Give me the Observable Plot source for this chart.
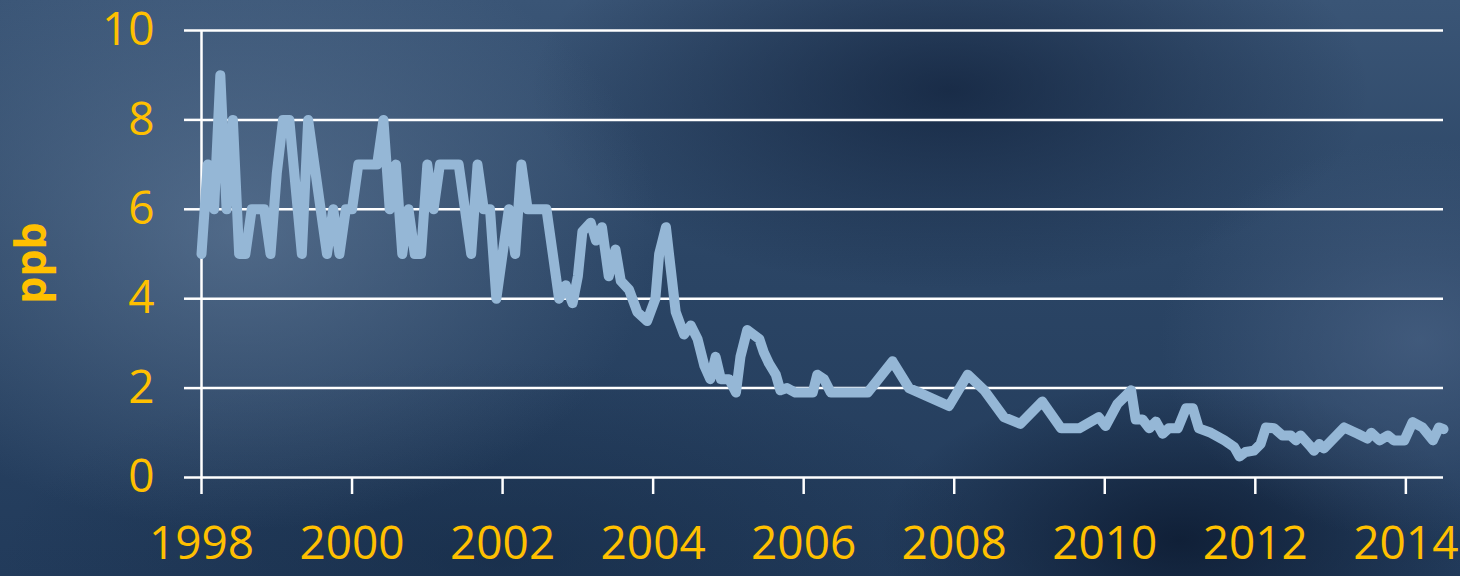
<!DOCTYPE html>
<html>
<head>
<meta charset="utf-8">
<script src="https://cdn.jsdelivr.net/npm/d3@7"></script>
<script src="https://cdn.jsdelivr.net/npm/@observablehq/plot@0.6"></script>
<style>
  html, body { margin: 0; padding: 0; }
  body {
    width: 1460px; height: 576px; overflow: hidden;
    background:
      radial-gradient(ellipse 420px 300px at 240px 230px, rgba(110,135,165,0.55), rgba(110,135,165,0) 100%),
      radial-gradient(ellipse 260px 200px at 1420px 340px, rgba(80,105,140,0.6), rgba(80,105,140,0) 100%),
      radial-gradient(ellipse 420px 200px at 950px 90px, rgba(10,25,50,0.65), rgba(10,25,50,0) 100%),
      radial-gradient(ellipse 300px 160px at 1180px 540px, rgba(8,20,40,0.7), rgba(8,20,40,0) 100%),
      radial-gradient(ellipse 500px 200px at 500px 560px, rgba(15,35,60,0.45), rgba(15,35,60,0) 100%),
      linear-gradient(180deg, #3a5576 0%, #2b4565 45%, #223b5b 100%);
  }
  #chart { position: absolute; left: 0; top: 0; }
</style>
</head>
<body>
<div id="chart"></div>
<script>
// Decimal years and ppb values
const years = [
  1998.000, 1998.083, 1998.167, 1998.250, 1998.333, 1998.417, 1998.500, 1998.583, 1998.667, 1998.750, 1998.833, 1998.917,
  1999.000, 1999.083, 1999.167, 1999.250, 1999.333, 1999.417, 1999.500, 1999.583, 1999.667, 1999.750, 1999.833, 1999.917,
  2000.000, 2000.083, 2000.167, 2000.250, 2000.333, 2000.417, 2000.500, 2000.583, 2000.667, 2000.750, 2000.833, 2000.917,
  2001.000, 2001.083, 2001.167, 2001.250, 2001.333, 2001.417, 2001.500, 2001.583, 2001.667, 2001.750, 2001.833, 2001.917,
  2002.000, 2002.083, 2002.167, 2002.250, 2002.333, 2002.417, 2002.500, 2002.583, 2002.667, 2002.750,
  2002.84, 2002.93, 2003.00, 2003.06, 2003.17, 2003.24, 2003.32, 2003.41, 2003.50, 2003.57, 2003.68, 2003.79, 2003.92,
  2004.03, 2004.08, 2004.17, 2004.30, 2004.41, 2004.50, 2004.59, 2004.68, 2004.76, 2004.83, 2004.90,
  2005.01, 2005.10, 2005.16, 2005.25, 2005.41, 2005.47, 2005.54, 2005.63, 2005.69, 2005.78, 2005.89,
  2006.12, 2006.18, 2006.27, 2006.36, 2006.85, 2007.18, 2007.40, 2007.93,
  2008.18, 2008.40, 2008.66, 2008.88, 2009.17, 2009.42, 2009.66, 2009.92,
  2010.01, 2010.17, 2010.35, 2010.41, 2010.50, 2010.59, 2010.68, 2010.77, 2010.85, 2010.97,
  2011.08, 2011.17, 2011.25, 2011.41, 2011.59, 2011.72, 2011.79, 2011.87, 2011.98,
  2012.07, 2012.14, 2012.25, 2012.36, 2012.47, 2012.54, 2012.60, 2012.72, 2012.78, 2012.85, 2012.91,
  2013.18, 2013.36, 2013.49, 2013.54, 2013.65, 2013.76, 2013.84, 2013.98,
  2014.09, 2014.22, 2014.36, 2014.44, 2014.50
];
const ppb = [
  5, 7, 6, 9, 6, 8, 5, 5, 6, 6, 6, 5,
  6.8, 8, 8, 6.5, 5, 8, 7, 6, 5, 6, 5, 6,
  6, 7, 7, 7, 7, 8, 6, 7, 5, 6, 5, 5,
  7, 6, 7, 7, 7, 7, 6, 5, 7, 6, 6, 4,
  5, 6, 5, 7, 6, 6, 6, 6, 5, 4,
  4.3, 3.9, 4.5, 5.5, 5.7, 5.3, 5.6, 4.5, 5.1, 4.4, 4.2, 3.7, 3.5,
  4.0, 5.0, 5.6, 3.7, 3.2, 3.4, 3.1, 2.5, 2.2, 2.7, 2.2,
  2.2, 1.9, 2.7, 3.3, 3.1, 2.8, 2.55, 2.3, 1.95, 2.0, 1.9,
  1.9, 2.3, 2.2, 1.9, 1.9, 2.6, 2.0, 1.6,
  2.3, 1.95, 1.35, 1.2, 1.7, 1.1, 1.1, 1.35,
  1.15, 1.65, 1.95, 1.3, 1.3, 1.1, 1.25, 0.98, 1.1, 1.1,
  1.55, 1.55, 1.1, 1.0, 0.83, 0.68, 0.47, 0.57, 0.6,
  0.75, 1.12, 1.1, 0.94, 0.94, 0.83, 0.94, 0.72, 0.6, 0.75, 0.65,
  1.12, 0.98, 0.87, 1.0, 0.83, 0.94, 0.83, 0.83,
  1.24, 1.12, 0.83, 1.12, 1.08
];
const yTicks = [0, 2, 4, 6, 8, 10];
const xTicks = [1998, 2000, 2002, 2004, 2006, 2008, 2010, 2012, 2014];
const xDomain = [1998, 2014.5];
const yLabel = "ppb";

const data = years.map((t, i) => ({t, v: ppb[i]}));

const orange = "#FFC000";
const chart = Plot.plot({
  width: 1460,
  height: 576,
  marginLeft: 201,
  marginRight: 17,
  marginTop: 30,
  marginBottom: 99,
  style: {background: "transparent", fontFamily: "'Open Sans', sans-serif", fontSize: "46px", color: orange, overflow: "visible"},
  x: {domain: xDomain},
  y: {domain: [0, 10]},
  marks: [
    Plot.ruleY(yTicks, {x1: xDomain[0], x2: xDomain[1], stroke: "white", strokeWidth: 2.5}),
    Plot.ruleX([xDomain[0]], {stroke: "white", strokeWidth: 2.5}),
    Plot.axisY({ticks: yTicks, tickSize: 17, tickPadding: 30, stroke: "white", strokeWidth: 2.5, strokeOpacity: 1, fill: orange, label: null, tickFormat: d3.format("d")}),
    Plot.axisX({ticks: xTicks, tickSize: 17, tickPadding: 32, stroke: "white", strokeWidth: 2.5, strokeOpacity: 1, fill: orange, label: null, tickFormat: d3.format("d")}),
    Plot.line(data, {x: "t", y: "v", stroke: "#95B7D6", strokeWidth: 10, strokeLinejoin: "round", strokeLinecap: "round"}),
    Plot.text([yLabel], {text: d => d, frameAnchor: "left", rotate: -90, dx: -156, dy: 9, lineAnchor: "bottom", textAnchor: "middle", fill: orange, fontWeight: "bold", fontSize: 43, fontFamily: "'Open Sans', sans-serif"})
  ]
});
document.getElementById("chart").appendChild(chart);
</script>
</body>
</html>
